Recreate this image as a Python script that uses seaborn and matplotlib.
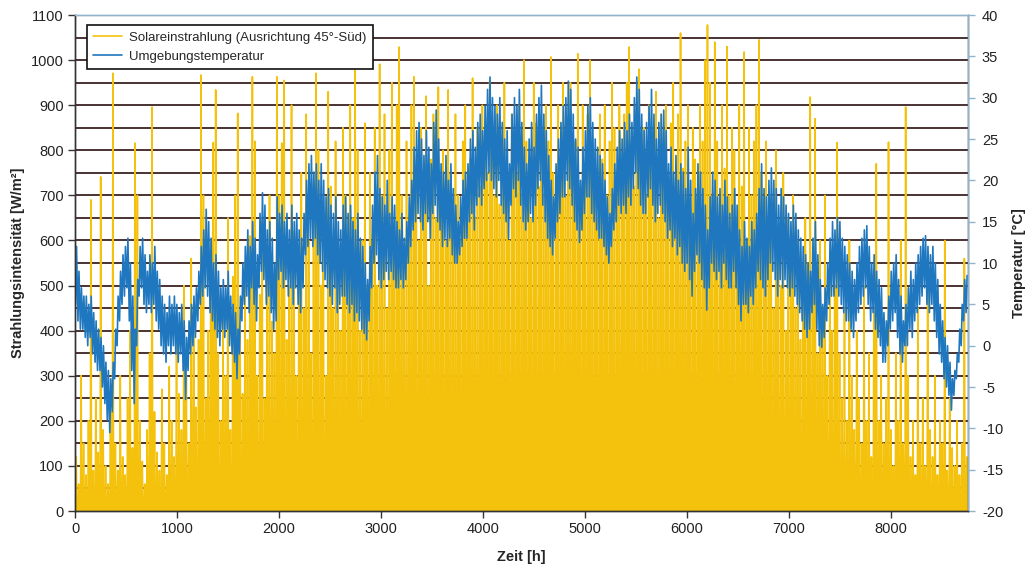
import numpy as np
import pandas as pd
import matplotlib
matplotlib.use("Agg")
import matplotlib.pyplot as plt
import seaborn as sns

# ---- data (one value per day) ----
# daily peak solar irradiance on 45° south surface [W/m2]
solar_peak = [
    120, 60, 300, 150, 80, 200, 690, 90, 250, 130,
    741, 180, 100, 60, 220, 971, 150, 90, 300, 120,
    80, 250, 400, 140, 816, 700, 200, 110, 60, 180,
    350, 896, 220, 130, 90, 270, 150, 80, 320, 200,
    120, 400, 260, 180, 500, 300, 150, 560, 420, 230,
    380, 967, 700, 250, 400, 600, 817, 934, 350, 200,
    450, 300, 650, 180, 520, 700, 882, 400, 260, 550,
    380, 610, 963, 820, 300, 480, 650, 250, 560, 700,
    420, 350, 963, 700, 816, 955, 380, 500, 900, 620,
    300, 560, 750, 450, 880, 600, 350, 700, 971, 800,
    500, 650, 300, 930, 720, 450, 820, 600, 400, 850,
    700, 500, 900, 650, 978, 800, 400, 600, 860, 500,
    750, 600, 850, 500, 991, 700, 880, 450, 800, 950,
    620, 900, 1029, 700, 550, 820, 650, 900, 963, 750,
    600, 850, 700, 920, 500, 780, 880, 650, 940, 720,
    800, 600, 934, 750, 650, 880, 700, 600, 820, 900,
    700, 780, 960, 650, 850, 720, 900, 800, 750, 955,
    850, 700, 900, 680, 800, 950, 720, 600, 880, 830,
    750, 900, 700, 1000, 820, 780, 650, 950, 860, 720,
    880, 700, 900, 820, 1007, 750, 680, 900, 800, 950,
    700, 850, 950, 780, 820, 1014, 650, 900, 760, 880,
    1000, 720, 800, 650, 880, 780, 900, 700, 820, 950,
    850, 700, 900, 760, 880, 950, 1029, 800, 720, 900,
    980, 750, 850, 700, 900, 820, 780, 930, 650, 880,
    800, 900, 720, 860, 950, 700, 880, 1060, 760, 820,
    900, 650, 850, 780, 700, 900, 820, 1000, 1078, 950,
    700, 1040, 820, 650, 900, 760, 1030, 700, 850, 800,
    650, 900, 720, 1018, 600, 850, 700, 820, 900, 1045,
    750, 550, 820, 650, 700, 450, 800, 600, 500, 750,
    400, 650, 550, 700, 450, 600, 380, 500, 650, 550,
    918, 500, 870, 350, 600, 450, 700, 300, 550, 400,
    500, 817, 350, 250, 450, 200, 600, 300, 180, 400,
    250, 150, 500, 200, 350, 120, 450, 770, 200, 300,
    150, 250, 818, 180, 100, 350, 200, 600, 150, 896,
    300, 120, 200, 80, 450, 150, 250, 100, 500, 180,
    120, 300, 80, 200, 150, 600, 90, 250, 140, 100,
    200, 80, 150, 560, 120,
]
night_value = 0  # irradiance at night [W/m2]

# daily maximum / minimum ambient temperature [°C]
temp_max = [
    12, 9, 7, 6, 6, 5, 6, 4, 3, 2,
    1, 0, -2, -3, -4, -2, 2, 6, 9, 11,
    12, 13, 10, 6, 2, 8, 12, 13, 11, 9,
    11, 10, 12, 9, 8, 6, 5, 4, 6, 5,
    6, 5, 4, 5, 3, 1, 3, 5, 6, 7,
    9, 12, 14, 16.5, 15, 13, 10, 11, 9, 7,
    8, 7, 9, 6, 5, 4, 2, 6, 10, 12,
    14, 12, 15, 13, 11, 16, 18.5, 17, 14, 15,
    13, 10, 18, 16, 17, 15, 16, 14, 17, 15,
    16, 14, 13, 16, 20, 22, 23, 21, 22, 20,
    22, 20, 18, 19, 17, 16, 18, 15, 14, 17,
    18, 16, 17, 15, 14, 16, 13, 12, 10, 8,
    12, 17, 21, 23, 19, 18, 17, 20, 16, 18,
    17, 15, 14, 16, 13, 15, 18, 20, 24, 26,
    27, 25, 23, 26, 24, 22, 27, 28.5, 25, 22,
    21, 23, 20, 22, 19, 17, 15, 18, 20, 21,
    22, 25, 26, 24, 27, 28, 26, 29, 31, 32.5,
    30, 29, 28, 30, 27, 25, 26, 22, 28, 30,
    29, 31, 27, 24, 22, 25, 27, 24, 28, 30,
    31.5, 28, 26, 23, 20, 18, 22, 25, 27, 29,
    30, 32, 31, 28, 25, 24, 20, 24, 26, 29,
    30, 27, 25, 24, 23, 22, 20, 18, 16, 19,
    22, 24, 26, 25, 27, 26, 28, 27, 30, 32.5,
    31, 28, 26, 27, 29, 31, 28, 25, 27, 28,
    28.5, 26, 22, 24, 21, 23, 20, 22, 21, 19,
    24, 20, 16, 19, 22, 21, 19, 17, 14, 18,
    21, 20, 18, 19, 17, 20, 18, 16, 17, 19,
    17, 14, 12, 15, 13, 12, 15, 14, 16, 19,
    22, 19, 18, 20, 21.5, 20, 19, 17, 19, 18,
    17, 16, 15, 17, 16, 14, 13, 12, 11, 10,
    9, 13, 15, 11, 8, 5, 7, 10, 13, 15,
    14, 15.5, 15, 13, 12, 11, 10, 9, 8, 10,
    12, 13, 14, 14.5, 12, 10, 11, 9, 8, 7,
    4, 3, 6, 9, 10, 11, 8, 6, 3, 5,
    7, 9, 8, 10, 11, 12, 13, 13.3, 12, 11,
    12, 10, 8, 5, 3, 1, 0, -2, -4, -3,
    -1, 2, 5, 8, 8.5,
]
temp_min = [
    5, 3, 2, 2, 1, 0, 1, -1, -2, -3,
    -3, -5, -7, -9, -10.5, -8, -4, 0, 3, 5,
    6, 7, 3, -3, -7, 0, 6, 7, 5, 4,
    5, 4, 5, 3, 2, 0, -1, -2, 0, -1,
    0, -1, -2, -1, -3, -6.5, -3, -1, 0, 1,
    3, 5, 6, 7, 6, 4, 3, 2, 1, 0,
    2, 1, 2, 0, -1, -2, -4, -1, 3, 5,
    6, 4, 7, 5, 3, 7, 9, 8, 5, 6,
    4, 2, 3, 8, 9, 7, 8, 6, 7, 5,
    7, 5, 4, 7, 11, 12, 13, 12, 13, 11,
    10, 9, 8, 7, 6, 5, 7, 4, 5, 6,
    6, 5, 4, 5, 3, 4, 3, 2, 1.5, 0.7,
    3, 7, 10, 11, 8, 7, 8, 9, 8, 9,
    8, 7, 7, 8, 7, 8, 10, 12, 14, 15,
    16, 15, 14, 16, 15, 13, 16, 17, 15, 14,
    12, 13, 12, 13, 11, 10, 10, 11, 12, 13,
    13, 15, 16, 14, 17, 18, 17, 19, 20, 21,
    20, 19, 18, 20, 17, 16, 15, 13, 17, 19,
    18, 20, 17, 15, 14, 15, 16, 15, 17, 19,
    20, 17, 15, 13, 12, 11, 13, 15, 16, 18,
    18, 20, 19, 17, 15, 14, 12.5, 14, 16, 18,
    18, 16, 15, 14, 13, 13, 12, 11, 10, 12,
    14, 15, 17, 16, 17, 16, 18, 17, 19, 21,
    19, 17, 16, 16, 18, 19, 17, 15, 16, 17,
    16, 15, 13, 14, 12, 13, 11, 12, 10, 9,
    10, 8, 6, 9, 11, 10, 8, 7, 4.3, 7,
    10, 9, 8, 9, 7, 10, 8, 7, 7, 9,
    7, 5, 3, 5, 5, 4, 6, 5, 7, 9,
    8, 7, 6, 8, 10, 9, 8, 6, 8, 7,
    8, 7, 6, 7, 6, 5, 4, 3, 2, 1,
    2, 4, 5, 2, 0, -0.2, 1, 3, 5, 6,
    6, 7, 6, 5, 4, 3, 3, 2, 1, 3,
    4, 5, 6, 7, 5, 3, 4, 2, 1, 0,
    -2, -2, 0, 2, 3, 4, 1, -1, -2, 0,
    0, 2, 1, 3, 4, 5, 6, 7, 5, 4,
    5, 3, 1, -1, -2, -4, -5, -6, -7.8, -6,
    -4, -2, 0, 3, 4,
]

x_ticks = [0, 1000, 2000, 3000, 4000, 5000, 6000, 7000, 8000]
y_left_ticks = list(range(0, 1101, 100))
y_right_ticks = list(range(-20, 41, 5))

label_solar = "Solareinstrahlung (Ausrichtung 45°-Süd)"
label_temp = "Umgebungstemperatur"

# ---- build hourly-positioned frames ----
days = np.arange(len(solar_peak))
sol_rows = []
for d, p in zip(days, solar_peak):
    sol_rows += [(d * 24 + 6, night_value), (d * 24 + 12, p), (d * 24 + 18, night_value)]
df_sol = pd.DataFrame(sol_rows, columns=["h", "W"])

tmp_rows = []
for d, (tn, tx) in enumerate(zip(temp_min, temp_max)):
    tmp_rows += [(d * 24 + 5, tn), (d * 24 + 15, tx)]
df_tmp = pd.DataFrame(tmp_rows, columns=["h", "T"])

# ---- plot ----
sns.set_theme(style="white")
plt.rcParams["font.family"] = ["Liberation Sans", "DejaVu Sans"]
plt.rcParams["axes.unicode_minus"] = False

fig = plt.figure(figsize=(10.26, 5.69), dpi=100)
ax = fig.add_axes([0.0731, 0.1019, 0.8704, 0.8717])
ax2 = ax.twinx()

yellow = "#F4C20D"
blue = "#1F77BF"

sns.lineplot(data=df_sol, x="h", y="W", ax=ax, color=yellow, lw=1.2,
             estimator=None, sort=False, label=label_solar, legend=False)
sns.lineplot(data=df_tmp, x="h", y="T", ax=ax2, color=blue, lw=1.2,
             estimator=None, sort=False, label=label_temp, legend=False)

ax.set_xlim(0, 8760)
ax.set_ylim(0, 1100)
ax2.set_ylim(-20, 40)
ax.set_xticks(x_ticks)
ax.set_yticks(y_left_ticks)
ax.set_yticks(np.arange(50, 1100, 100), minor=True)
ax2.set_yticks(y_right_ticks)

ax.set_axisbelow(True)
ax.grid(True, which="both", axis="y", color="#3a2222", lw=1.3)
ax.grid(False, axis="x")
ax2.grid(False)

for a in (ax, ax2):
    for s in a.spines.values():
        s.set_linewidth(1.0)
ax.spines["left"].set_color("#333333")
ax.spines["bottom"].set_color("#333333")
ax.spines["top"].set_color("#8fb4cc")
ax2.spines["top"].set_color("#8fb4cc")
ax2.spines["right"].set_color("#8fb4cc")
ax2.spines["left"].set_color("#333333")
ax2.spines["bottom"].set_color("#333333")

ax.tick_params(axis="both", which="major", direction="out", length=5, width=1,
               color="#333333", labelsize=10.5, labelcolor="#222222", pad=3,
               left=True, bottom=True)
ax.tick_params(axis="y", which="minor", left=False)
ax2.tick_params(axis="y", direction="out", length=5, width=1, color="#8fb4cc",
                labelsize=10.5, labelcolor="#222222", pad=5, right=True)

ax.set_xlabel("Zeit [h]", fontsize=10.5, fontweight="bold", labelpad=10)
ax.set_ylabel("Strahlungsintensität [W/m²]", fontsize=10.5, fontweight="bold", labelpad=4)
ax2.set_ylabel("Temperatur [°C]", fontsize=10.5, fontweight="bold", labelpad=6)

h1, l1 = ax.get_legend_handles_labels()
h2, l2 = ax2.get_legend_handles_labels()
leg = ax2.legend(h1 + h2, l1 + l2, loc="upper left", bbox_to_anchor=(0.013, 0.98),
                 borderaxespad=0, fontsize=9.5, frameon=True, fancybox=False,
                 edgecolor="#111111", framealpha=1, handlelength=2.2,
                 handletextpad=0.5, borderpad=0.5, labelspacing=0.5)
leg.get_frame().set_linewidth(1.2)
for line in leg.get_lines():
    line.set_linewidth(1.2)

fig.savefig("out.png", dpi=100)
